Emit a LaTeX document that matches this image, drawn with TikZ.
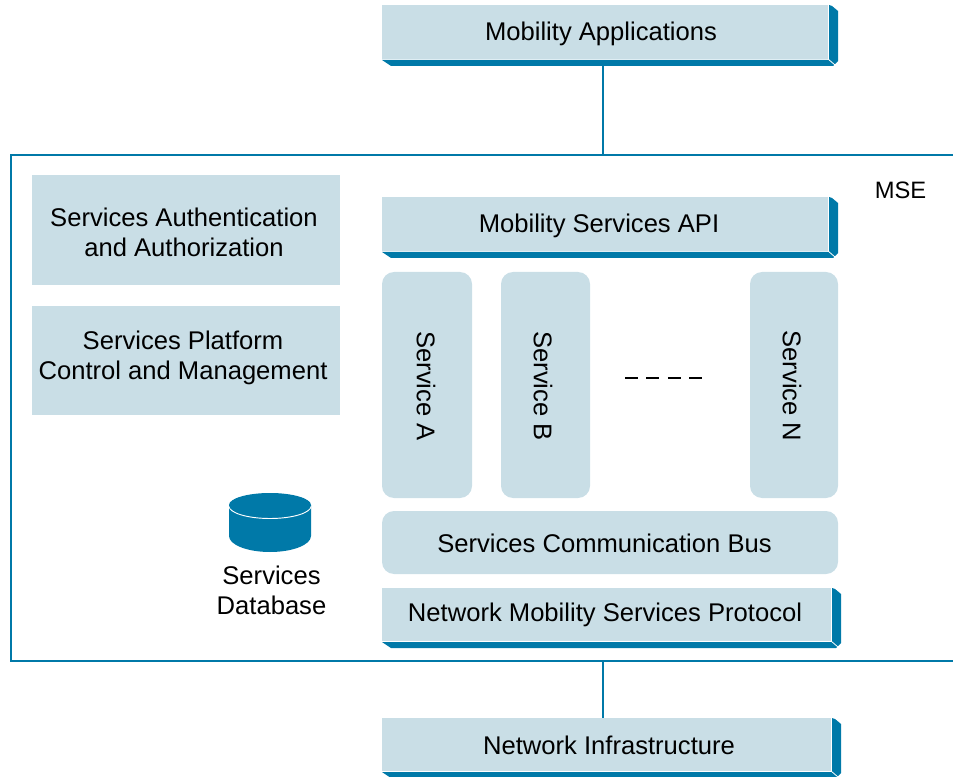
\documentclass[tikz,border=0pt]{standalone}
\usepackage{fontspec}
\setmainfont{Liberation Sans}
\definecolor{facecol}{HTML}{C9DEE6}
\definecolor{bluecol}{HTML}{0079A8}
\tikzset{
  x=0.75pt,y=-0.75pt,
  face/.style={fill=facecol,draw=none,inner sep=0pt,outer sep=0pt,anchor=north west},
  roundface/.style={face,rounded corners=9pt},
  side/.style={fill=bluecol,draw=none},
  wire/.style={draw=bluecol,line width=1.6pt},
  lbl/.style={inner sep=0pt,align=center,font=\fontsize{19.2}{22.5}\selectfont},
}
% name, x1, y1, x2, y2, text x, text y, text : raised box with bevel on bottom and right
\newcommand{\bevelbox}[8]{%
  \node[face,minimum width=#4pt*0.75-#2pt*0.75,minimum height=#5pt*0.75-#3pt*0.75] (#1) at (#2,#3) {};
  \fill[side] (#2,#5+1) -- (#4+1,#5+1) -- (#4+1,#3) -- (#4+4,#3+1) -- (#4+10,#3+6) -- (#4+10,#5+2) -- (#4+5,#5+7) -- (#2+9,#5+7) -- cycle;
  \draw[white,line width=0.6pt] (#4,#5) -- (#4+7,#5+6);
  \node[lbl] (#1text) at (#6,#7) {#8};
}
\begin{document}
\begin{tikzpicture}
\useasboundingbox (0,0) rectangle (953,777);
% MSE frame, open to the right edge
\draw[wire] (953,155) -- (11,155) -- (11,661) -- (953,661);
\coordinate (frametop) at (603,155);
\coordinate (framebot) at (603,661);
\node[lbl,font=\fontsize{17.8}{20}\selectfont] (mse) at (900.5,190) {MSE};

\bevelbox{apps}{382}{5}{828}{59}{601}{34}{Mobility Applications}
\bevelbox{api}{382}{197}{828}{251}{599}{226}{Mobility Services API}
\bevelbox{nmsp}{382}{588}{831}{641}{605}{615}{Network Mobility Services Protocol}
\bevelbox{infra}{382}{718}{831}{771}{609}{745}{Network Infrastructure}

\node[face,minimum width=231pt,minimum height=82.5pt] (auth) at (32,175) {};
\node[lbl] (authtext) at (184,232) {Services Authentication\\and Authorization};
\node[face,minimum width=231pt,minimum height=81.75pt] (ctrl) at (32,306) {};
\node[lbl] (ctrltext) at (183,358) {Services Platform\\Control and Management};

\node[roundface,minimum width=67.5pt,minimum height=169.5pt] (sa0) at (382,272) {};
\node[roundface,minimum width=66.75pt,minimum height=169.5pt] (sb0) at (501,272) {};
\node[roundface,minimum width=66pt,minimum height=169.5pt] (sn0) at (750,272) {};
\node[lbl,rotate=-90] (sa) at (426,386) {Service A};
\node[lbl,rotate=-90] (sb) at (543,386) {Service B};
\node[lbl,rotate=-90] (sn) at (792,386) {Service N};
\node[roundface,minimum width=342pt,minimum height=47.25pt] (bus) at (382,511) {};
\node[lbl] (bustext) at (604.5,543) {Services Communication Bus};
\coordinate (dl) at (625,378);
\coordinate (dr) at (702,378);
\draw[line width=1.3pt,dash pattern=on 9.5pt off 6.6pt,black] (dl) -- (dr);

% database
\fill[bluecol] (229,505) -- (229,536) arc[start angle=180,end angle=0,x radius=41,y radius=16] -- (311,505) -- cycle;
\draw[white,line width=0.7pt] (229,506) arc[start angle=180,end angle=0,x radius=41,y radius=12.5];
\fill[bluecol] (270,505) ellipse[x radius=41,y radius=12];
\node[lbl] (db) at (271.5,590) {Services\\Database};

\coordinate (a0) at (603,65);
\coordinate (a1) at (603,718);
\draw[wire] (a0) -- (frametop);
\draw[wire] (framebot) -- (a1);
\end{tikzpicture}
\end{document}
